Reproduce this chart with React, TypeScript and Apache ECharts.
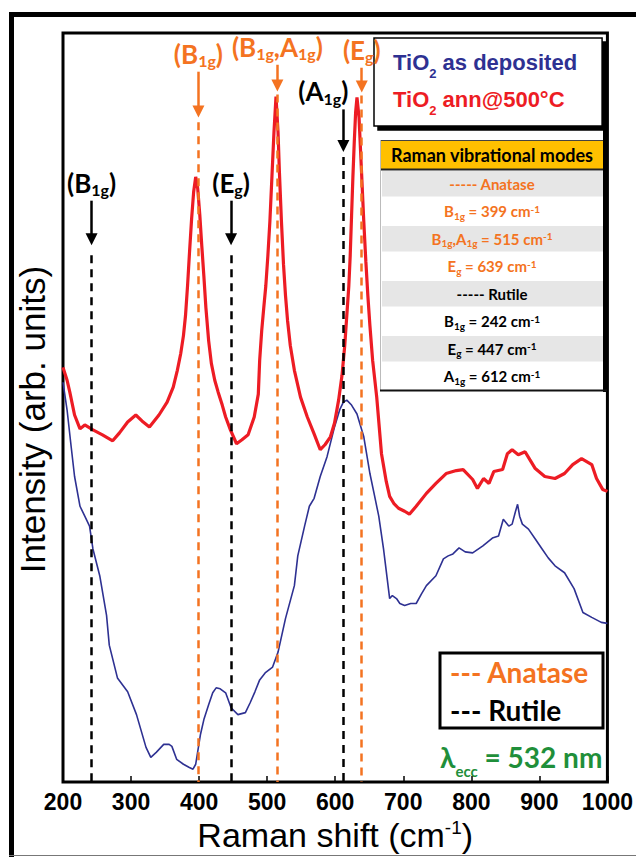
import { useEffect, useRef } from "react";
import * as echarts from "echarts";

// Raman spectra of the TiO2 films: shift in cm-1, intensity in arbitrary units
const annealedShift = [
  200, 206, 210, 217, 225, 232, 244, 258, 273, 283, 295, 307, 316, 327, 341, 353, 362, 368, 373, 377,
  380, 383, 386, 389, 392, 395, 398, 401, 404, 407, 410, 414, 418, 423, 428, 434, 439, 446, 455, 463,
  472, 481, 487, 489, 492, 495, 498, 501, 504, 507, 510, 513, 516, 518, 521, 524, 527, 530, 534, 540,
  549, 559, 569, 578, 585, 593, 599, 605, 610, 614, 617, 620, 622, 624, 626, 628, 630, 632, 635, 637,
  639, 642, 645, 648, 651, 655, 661, 668, 675, 680, 686, 693, 702, 709, 719, 734, 748, 763, 778, 788,
  802, 809, 818, 826, 833, 846, 853, 860, 869, 879, 886, 894, 908, 923, 937, 949, 962, 977, 984, 993,
  1000,
];
const annealedIntensity = [
  418, 405, 393, 370, 356, 360, 355, 350, 344, 352, 363, 370, 364, 358, 370, 383, 398, 415, 432, 450,
  470, 500, 535, 568, 595, 610, 598, 572, 540, 510, 478, 445, 422, 405, 393, 380, 368, 355, 341, 345,
  350, 368, 391, 425, 455, 478, 500, 530, 565, 610, 655, 691, 655, 615, 565, 522, 490, 465, 440, 415,
  388, 368, 351, 335, 340, 348, 362, 385, 410, 440, 470, 500, 530, 570, 610, 645, 675, 690, 670, 640,
  610, 565, 525, 490, 460, 425, 388, 331, 303, 288, 281, 276, 273, 270, 278, 291, 301, 311, 314, 315,
  305, 296, 306, 301, 313, 315, 331, 335, 330, 333, 325, 316, 308, 306, 311, 320, 326, 320, 306, 295,
  293,
];

const depositedShift = [
  200, 206, 212, 217, 225, 232, 239, 244, 254, 264, 268, 280, 295, 308, 322, 329, 337, 348, 356, 360,
  367, 377, 385, 391, 395, 402, 407, 414, 420, 425, 431, 439, 447, 457, 468, 475, 482, 489, 497, 508,
  516, 527, 540, 545, 555, 562, 569, 578, 588, 599, 607, 612, 617, 624, 632, 642, 651, 658, 664, 671,
  680, 684, 690, 695, 702, 711, 719, 727, 734, 748, 759, 766, 773, 782, 791, 802, 817, 831, 840, 847,
  855, 860, 865, 868, 871, 875, 884, 894, 904, 913, 923, 937, 951, 964, 977, 991, 1000,
];
const depositedIntensity = [
  403, 375, 338, 308, 278, 268, 258, 235, 208, 168, 138, 105, 91, 68, 35, 25, 30, 38, 38, 36,
  23, 18, 15, 13, 18, 48, 63, 78, 90, 95, 94, 90, 75, 68, 70, 80, 91, 103, 110, 116,
  131, 165, 198, 228, 258, 278, 286, 308, 328, 358, 376, 383, 385, 380, 371, 348, 311, 288, 268, 235,
  185, 188, 185, 180, 178, 180, 180, 190, 198, 208, 225, 228, 230, 236, 232, 231, 238, 246, 248, 265,
  258, 260, 273, 280, 268, 260, 255, 245, 235, 226, 218, 211, 195, 171, 166, 161, 160,
];

const seriesNames = ["TiO2 as deposited", "TiO2 ann@500°C"];

// Raman vibrational modes (cm-1)
const anataseModes = ["B1g", "B1g,A1g", "Eg"];
const anataseShifts = [399, 515, 639];
const rutileModes = ["B1g", "Eg", "A1g"];
const rutileShifts = [242, 447, 612];

const xMin = 200;
const xMax = 1000;
const xStep = 100;

const BLUE = "#2e3192";
const RED = "#ed1c24";
const ORANGE = "#f47321";
const GREEN = "#1f8f3a";
const ARIAL = "'Liberation Sans', Arial, sans-serif";
const CALIBRI = "Lato, 'Open Sans', sans-serif";

// marker geometry in intensity units: [arrow start, arrow end, dashed line start]
const anataseArrows = [
  [716, 676, 665],
  [723, 702, 693],
  [720, 701, 692],
];
const rutileArrows = [
  [586, 547, 531],
  [586, 547, 531],
  [678, 641, 630],
];
const rutileLabelPad = [0, 0, 40];

// "B1g,A1g" -> rich tokens with subscripted indices
function modeRich(mode: string, big: string, small: string) {
  return mode
    .split(",")
    .map((m) => `{${big}|${m[0]}}{${small}|${m.slice(1)}}`)
    .join(`{${big}|,}`);
}

function annotRich(color: string) {
  return {
    t: { fontFamily: CALIBRI, fontWeight: "bold", fontSize: 26, color, lineHeight: 30, verticalAlign: "top" },
    s: {
      fontFamily: CALIBRI,
      fontWeight: "bold",
      fontSize: 16,
      color,
      lineHeight: 30,
      verticalAlign: "top",
      padding: [12, 0, 0, 0],
    },
  };
}

function dashedLines(shifts: number[], arrows: number[][], color: string) {
  return shifts.map((x, i) => [
    { coord: [x, arrows[i][2]], lineStyle: { color, width: 2.5, type: [8, 6] } },
    { coord: [x, 0] },
  ]);
}

function arrowLines(shifts: number[], modes: string[], arrows: number[][], color: string, pads?: number[]) {
  return shifts.map((x, i) => [
    {
      coord: [x, arrows[i][0]],
      lineStyle: { color, width: 2.5, type: "solid" },
      label: {
        show: true,
        position: "start",
        distance: 1,
        padding: [0, pads ? pads[i] : 0, 0, 0],
        formatter: `{t|(}${modeRich(modes[i], "t", "s")}{t|)}`,
        rich: annotRich(color),
      },
    },
    { coord: [x, arrows[i][1]] },
  ]);
}

function richText(color: string, size: number, sub: number, drop: number) {
  const pad = Math.round(0.85 * size + drop - 0.85 * sub);
  const lh = size + 6;
  return {
    m: { fontFamily: CALIBRI, fontWeight: "bold", fontSize: size, fill: color, color, lineHeight: lh, verticalAlign: "top" },
    d: {
      fontFamily: CALIBRI,
      fontWeight: "bold",
      fontSize: sub,
      fill: color,
      color,
      lineHeight: lh,
      verticalAlign: "top",
      padding: [pad, 0, 0, 0],
    },
    u: { fontFamily: CALIBRI, fontWeight: "bold", fontSize: sub, fill: color, color, lineHeight: lh, verticalAlign: "top" },
  };
}

function textEl(x: number, yMid: number, size: number, text: string, rich: any, align = "center") {
  return {
    type: "text",
    x,
    y: yMid - size / 2,
    silent: true,
    style: {
      text,
      rich,
      align,
      textAlign: align,
      verticalAlign: "top",
      textVerticalAlign: "top",
    },
  };
}

function modeRow(mode: string, shift: number) {
  return `${modeRich(mode, "m", "d")}{m| = ${shift} cm}{u|-1}`;
}

function buildTable() {
  const left = 380;
  const right = 605;
  const top = 140;
  const rowTop = 170;
  const rowH = 27.5;
  const rows: { text: string; color: string }[] = [];
  rows.push({ text: "{m|----- Anatase}", color: ORANGE });
  anataseModes.forEach((m, i) => rows.push({ text: modeRow(m, anataseShifts[i]), color: ORANGE }));
  rows.push({ text: "{m|----- Rutile}", color: "#000" });
  rutileModes.forEach((m, i) => rows.push({ text: modeRow(m, rutileShifts[i]), color: "#000" }));

  const els: any[] = [];
  els.push({ type: "rect", silent: true, shape: { x: left, y: top, width: right - left, height: rowTop - top }, style: { fill: "#ffc000" } });
  els.push({ type: "line", silent: true, shape: { x1: left, y1: top + 0.5, x2: right, y2: top + 0.5 }, style: { stroke: "#444", lineWidth: 1 } });
  els.push({ type: "line", silent: true, shape: { x1: left, y1: rowTop - 0.5, x2: right, y2: rowTop - 0.5 }, style: { stroke: "#222", lineWidth: 2 } });
  rows.forEach((_, i) => {
    if (i % 2 === 0) {
      els.push({
        type: "rect",
        silent: true,
        shape: { x: left + 2, y: rowTop + i * rowH + 1, width: right - left - 4, height: rowH - 2 },
        style: { fill: "#e6e6e6" },
      });
    }
  });
  els.push({ type: "line", silent: true, shape: { x1: left + 0.5, y1: top, x2: left + 0.5, y2: 391 }, style: { stroke: "#bbb", lineWidth: 1 } });
  els.push({ type: "line", silent: true, shape: { x1: 605, y1: 130, x2: 605, y2: 392 }, style: { stroke: "#000", lineWidth: 4 } });
  els.push({ type: "line", silent: true, shape: { x1: left, y1: 390.5, x2: 607, y2: 390.5 }, style: { stroke: "#111", lineWidth: 2 } });

  els.push(textEl(492, 155, 18, "{m|Raman vibrational modes}", richText("#000", 18, 10, 3)));
  rows.forEach((r, i) => {
    els.push(textEl(492, rowTop + i * rowH + rowH / 2, 15, r.text, richText(r.color, 15, 10, 3)));
  });
  return els;
}

function buildNotes() {
  const els: any[] = [];
  // outer frame of the figure
  els.push({ type: "line", silent: true, shape: { x1: 11.5, y1: 12, x2: 11.5, y2: 857 }, style: { stroke: "#000", lineWidth: 5 } });
  els.push({ type: "line", silent: true, shape: { x1: 9, y1: 14.5, x2: 636, y2: 14.5 }, style: { stroke: "#000", lineWidth: 5 } });
  els.push({ type: "line", silent: true, shape: { x1: 9, y1: 855.5, x2: 636, y2: 855.5 }, style: { stroke: "#777", lineWidth: 1 } });

  // line-style key for the mode markers
  els.push({
    type: "rect",
    silent: true,
    shape: { x: 440, y: 653, width: 163, height: 75 },
    style: { fill: "#fff", stroke: "#000", lineWidth: 3 },
  });
  els.push(textEl(450, 672, 28, "{m|--- Anatase}", richText(ORANGE, 28, 14, 3), "left"));
  els.push(textEl(450, 710, 28, "{m|--- Rutile}", richText("#000", 28, 14, 3), "left"));

  // excitation wavelength
  els.push(textEl(440, 757, 28, "{m|λ}{d|ecc}{m| = 532 nm}", richText(GREEN, 28, 15, 9), "left"));
  return els;
}

export default function App() {
  const ref = useRef<HTMLDivElement>(null);

  useEffect(() => {
    document.body.style.margin = "0";
    if (!ref.current) return;
    const chart = echarts.init(ref.current, undefined, { renderer: "svg" });

    const legendRich = {
      b: { fontFamily: ARIAL, fontWeight: "bold", fontSize: 22, color: BLUE, lineHeight: 30, verticalAlign: "top" },
      bs: { fontFamily: ARIAL, fontWeight: "bold", fontSize: 13, color: BLUE, lineHeight: 30, verticalAlign: "top", padding: [16, 0, 0, 0] },
      r: { fontFamily: ARIAL, fontWeight: "bold", fontSize: 22, color: RED, lineHeight: 30, verticalAlign: "top" },
      rs: { fontFamily: ARIAL, fontWeight: "bold", fontSize: 13, color: RED, lineHeight: 30, verticalAlign: "top", padding: [16, 0, 0, 0] },
    };

    chart.setOption({
      animation: false,
      backgroundColor: "#fff",
      grid: {
        left: 63,
        top: 33,
        width: 548,
        height: 755,
        show: true,
        borderColor: "#000",
        borderWidth: 3,
        backgroundColor: "transparent",
      },
      xAxis: {
        type: "value",
        min: xMin,
        max: xMax,
        interval: xStep,
        name: "{n|Raman shift (cm}{u|-1}{n|)}",
        nameLocation: "middle",
        nameGap: 31,
        nameTextStyle: {
          rich: {
            n: { fontFamily: ARIAL, fontSize: 34, color: "#000", lineHeight: 38, verticalAlign: "top" },
            u: { fontFamily: ARIAL, fontSize: 19, color: "#000", lineHeight: 38, verticalAlign: "top" },
          },
        },
        axisLine: { show: false },
        axisTick: { show: true, inside: true, length: 6, lineStyle: { color: "#000", width: 1.5 } },
        axisLabel: {
          color: "#000",
          fontFamily: ARIAL,
          fontWeight: "bold",
          fontSize: 23,
          margin: 8,
          formatter: (v: number) => String(v),
        },
        splitLine: { show: false },
      },
      yAxis: {
        type: "value",
        min: 0,
        max: 755,
        name: "Intensity (arb. units)",
        nameLocation: "middle",
        nameRotate: 90,
        nameGap: 13,
        nameTextStyle: { fontFamily: ARIAL, fontSize: 35, color: "#000", padding: [0, 24, 0, 0] },
        axisLine: { show: false },
        axisTick: { show: false },
        axisLabel: { show: false },
        splitLine: { show: false },
      },
      legend: {
        orient: "vertical",
        left: 374,
        top: 38,
        data: seriesNames,
        icon: "none",
        itemWidth: 0,
        itemHeight: 30,
        itemGap: 8,
        padding: [13, 25, 9, 14],
        backgroundColor: "#fff",
        borderColor: "#000",
        borderWidth: 1.5,
        shadowColor: "#000",
        shadowBlur: 0,
        shadowOffsetX: 4,
        shadowOffsetY: 4,
        selectedMode: false,
        formatter: (name: string) =>
          name === seriesNames[0] ? "{b|TiO}{bs|2}{b| as deposited}" : "{r|TiO}{rs|2}{r| ann@500°C}",
        textStyle: { rich: legendRich },
      },
      graphic: { elements: [...buildTable(), ...buildNotes()] },
      series: [
        {
          name: seriesNames[0],
          type: "line",
          data: depositedShift.map((x, i) => [x, depositedIntensity[i]]),
          showSymbol: false,
          symbol: "none",
          lineStyle: { color: BLUE, width: 1.6 },
          itemStyle: { color: BLUE },
          emphasis: { disabled: true },
          z: 2,
        },
        {
          name: seriesNames[1],
          type: "line",
          data: annealedShift.map((x, i) => [x, annealedIntensity[i]]),
          showSymbol: false,
          symbol: "none",
          lineStyle: { color: RED, width: 3.2 },
          itemStyle: { color: RED },
          emphasis: { disabled: true },
          z: 3,
        },
        {
          name: "mode lines",
          type: "line",
          data: [],
          z: 4,
          markLine: {
            silent: true,
            animation: false,
            symbol: ["none", "none"],
            label: { show: false },
            data: [
              ...dashedLines(anataseShifts, anataseArrows, ORANGE),
              ...dashedLines(rutileShifts, rutileArrows, "#000"),
            ],
          },
        },
        {
          name: "mode arrows",
          type: "line",
          data: [],
          z: 4,
          markLine: {
            silent: true,
            animation: false,
            symbol: ["none", "triangle"],
            symbolSize: 12,
            data: [
              ...arrowLines(anataseShifts, anataseModes, anataseArrows, ORANGE),
              ...arrowLines(rutileShifts, rutileModes, rutileArrows, "#000", rutileLabelPad),
            ],
          },
        },
      ],
    });

    return () => chart.dispose();
  }, []);

  return <div ref={ref} style={{ width: 636, height: 857 }} />;
}
